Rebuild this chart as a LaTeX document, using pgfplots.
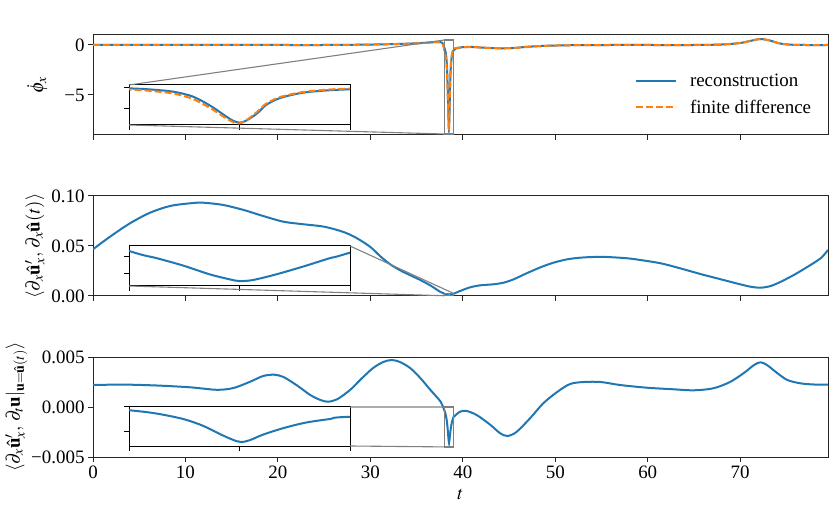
\documentclass[border=0pt]{standalone}
\usepackage{mathptmx}
\usepackage[no-math]{fontspec}
\setmainfont{Liberation Serif}
\usepackage{pgfplots}
\pgfplotsset{compat=1.18}
\usepackage{pgfplotstable}
\definecolor{mblue}{HTML}{1F77B4}
\definecolor{morange}{HTML}{FF7F0E}

\pgfplotstableread{
x y
0 0
5 0
10 0
15 0
20 0
25 0
28 0.02
31 0.06
34 0.13
36 0.22
37.3 0.3
37.8 0.2
38 -0.28
38.09 -0.52
38.2 -1.07
38.29 -2.24
38.37 -4.43
38.43 -6.55
38.47 -7.88
38.5 -8.35
38.53 -7.88
38.58 -6.16
38.62 -4.2
38.68 -2.63
38.77 -1.46
38.86 -0.91
39 -0.52
39.3 -0.33
40 -0.22
41 -0.2
42.5 -0.28
44 -0.33
45.5 -0.3
47 -0.18
49 -0.08
52 -0.02
56 0
60 0
65 0
68 0.05
70 0.2
71.3 0.45
72.2 0.6
73.2 0.45
74.3 0.15
75.5 0.03
77 0
79.5 0
}\tabArec

\pgfplotstableread{
x y
0 0
5 0
10 0
15 0
20 0
25 0
28 0.02
31 0.06
34 0.13
36 0.22
37.3 0.3
37.8 0.1
38 -0.55
38.09 -0.85
38.2 -1.5
38.29 -2.8
38.37 -5.0
38.43 -7.0
38.47 -8.2
38.5 -8.55
38.53 -7.8
38.58 -5.8
38.62 -3.9
38.68 -2.4
38.77 -1.3
38.86 -0.75
39 -0.35
39.3 -0.3
40 -0.22
41 -0.2
42.5 -0.28
44 -0.33
45.5 -0.3
47 -0.18
49 -0.08
52 -0.02
56 0
60 0
65 0
68 0.05
70 0.2
71.3 0.45
72.2 0.6
73.2 0.45
74.3 0.15
75.5 0.03
77 0
79.5 0
}\tabAfd

\pgfplotstableread{
x y
0 0.0467
1.84 0.0593
4.0 0.0727
6.17 0.0833
8.33 0.0900
10.5 0.0927
11.9 0.0933
14.1 0.0910
16.3 0.0860
18.4 0.0800
20.6 0.0743
22.8 0.0717
25.0 0.0693
27.1 0.0640
28.5 0.0580
30.0 0.0490
31.1 0.0395
32.1 0.0320
33.2 0.0258
34.3 0.0208
35.4 0.0160
36.5 0.0105
37.0 0.0075
37.5 0.0045
38 0.00231
38.124 0.00189
38.245 0.00145
38.366 0.00093
38.456 0.00064
38.5 0.00054
38.56 0.00060
38.665 0.00093
38.79 0.00140
38.91 0.00189
39 0.00221
39.7 0.0050
40.8 0.0087
41.9 0.0107
43.3 0.0117
44.4 0.0133
45.5 0.0167
46.9 0.0227
48.4 0.0287
49.8 0.0333
51.3 0.0367
52.7 0.0383
54.1 0.0390
55.6 0.0390
57.8 0.0377
59.2 0.0360
61.4 0.0327
63.5 0.0277
65.7 0.0220
67.9 0.0167
70.0 0.0117
71.1 0.0093
72.2 0.0083
73.3 0.0100
74.4 0.0143
75.8 0.0210
77.2 0.0287
78.7 0.0377
79.5 0.0460
}\tabB

\pgfplotstableread{
x y
0 0.0022
3.3 0.00224
6.9 0.00215
10.5 0.00197
13.4 0.00172
15.2 0.00190
17.0 0.00253
18.4 0.0031
19.6 0.00323
20.6 0.0030
22.0 0.0022
23.5 0.0012
24.6 0.0007
25.4 0.00053
26.4 0.00077
27.8 0.0017
29.0 0.0028
30.3 0.0039
31.4 0.0045
32.3 0.0047
33.2 0.0045
34.3 0.0039
35.4 0.0029
36.5 0.0017
37.6 0.00053
38 -0.00033
38.124 -0.00067
38.245 -0.00123
38.335 -0.00193
38.426 -0.00293
38.486 -0.0035
38.51 -0.0036
38.547 -0.0034
38.607 -0.00283
38.698 -0.00217
38.8 -0.0016
38.91 -0.00123
39 -0.0010
39.7 -0.00047
40.4 -0.0004
41.5 -0.0008
43.0 -0.0018
44.0 -0.0026
44.8 -0.0029
45.8 -0.0025
47.3 -0.0011
48.7 0.00037
50.2 0.0015
51.6 0.0023
53.1 0.0025
54.9 0.0025
57.0 0.0022
59.9 0.00193
62.8 0.00177
65.0 0.00167
67.1 0.00187
68.9 0.0025
70.4 0.0034
71.5 0.0042
72.2 0.00447
72.9 0.0042
74.0 0.0034
75.1 0.0027
76.5 0.00237
78.0 0.00225
79.5 0.00225
}\tabC

\tikzset{conn/.style={black!50, line width=1.1bp}}
\pgfplotsset{
  mainax/.style={scale only axis, width=735bp, height=100bp, xmin=0, xmax=79.5,
    axis line style={line width=1bp, black!85}, tick style={line width=1bp, black!85},
    tick align=outside, major tick length=5bp, tick pos=left,
    xtick={0,10,20,30,40,50,60,70}, scaled ticks=false,
    tick label style={font=\fontsize{19}{21}\selectfont},
    label style={font=\fontsize{19}{21}\selectfont},
    /pgf/number format/assume math mode=true},
  insax/.style={scale only axis, width=221bp, xmin=38, xmax=39,
    restrict x to domain=37.4:39.8,
    xtick={38,38.5,39}, xticklabels={}, yticklabels={}, scaled ticks=false,
    axis line style={line width=1bp, black}, tick style={line width=1bp, black},
    tick align=outside, major tick length=5bp, tick pos=left,
    axis background/.style={fill=white}},
  rec/.style={mblue, line width=2bp, smooth},
  fd/.style={morange, line width=2bp, smooth, dash pattern=on 7bp off 3bp},
}

\begin{document}
\begin{tikzpicture}
\path[use as bounding box] (0,0) rectangle (830bp,505bp);

% ---------- panel (a)
\begin{axis}[mainax, name=A, at={(93bp,370bp)}, anchor=south west,
  ymin=-9, ymax=1, ytick={-5,0}, yticklabels={−5,0}, xticklabels={},
  ylabel={$\dot{\phi}_x$}, ylabel shift=10bp,
  legend style={draw=none, fill=none, at={(0.984,0.16)}, anchor=south east,
    font=\fontsize{19}{21}\selectfont, row sep=8bp},
  legend cell align=left,
  legend image code/.code={\draw[#1] (0bp,0bp) -- (40bp,0bp);}]
\addplot[rec] table {\tabArec};
\addlegendentry{\hspace{11bp}reconstruction}
\addplot[fd] table {\tabAfd};
\addlegendentry{\hspace{11bp}finite difference}
\draw[conn] (axis cs:38,-8.9) rectangle (axis cs:39,0.5);
\coordinate (Atl) at (axis cs:38,0.5);
\coordinate (Abl) at (axis cs:38,-8.9);
\node[font=\fontsize{25}{27}\selectfont] at (rel axis cs:-0.019,1.22) {$(a)$};
\end{axis}

% ---------- panel (b)
\begin{axis}[mainax, name=B, at={(93bp,209bp)}, anchor=south west,
  ymin=0, ymax=0.1, ytick={0,0.05,0.1}, yticklabels={0.00,0.05,0.10}, xticklabels={},
  ylabel={$\langle \partial_x \hat{\mathbf{u}}'_x,\, \partial_x \hat{\mathbf{u}}(t)\rangle$}]
\addplot[rec] table {\tabB};
\draw[conn] (axis cs:38,0.00025) rectangle (axis cs:39,0.0026);
\coordinate (Btr) at (axis cs:39,0.0026);
\coordinate (Bbl) at (axis cs:38,0.00025);
\node[font=\fontsize{25}{27}\selectfont] at (rel axis cs:-0.019,1.23) {$(b)$};
\end{axis}

% ---------- panel (c)
\begin{axis}[mainax, name=C, at={(93bp,48bp)}, anchor=south west,
  ymin=-0.005, ymax=0.005, ytick={-0.005,0,0.005}, yticklabels={−0.005,0.000,0.005},
  xticklabels={0,10,20,30,40,50,60,70},
  xlabel={$t$}, xlabel shift=4bp, ylabel shift=-3bp,
  ylabel={$\langle \partial_x \hat{\mathbf{u}}'_x,\, \partial_t \mathbf{u}|_{\mathbf{u}=\hat{\mathbf{u}}(t)}\rangle$}]
\addplot[rec] table {\tabC};
\draw[conn] (axis cs:38,-0.004) rectangle (axis cs:39,0);
\coordinate (Ctr) at (axis cs:39,0);
\coordinate (Cbr) at (axis cs:39,-0.004);
\node[font=\fontsize{25}{27}\selectfont] at (rel axis cs:-0.019,1.24) {$(c)$};
\end{axis}

% ---------- insets
\begin{axis}[insax, name=IA, at={(129bp,380bp)}, anchor=south west, height=40bp,
  ymin=-8.9, ymax=0.5, ytick={-5,0}]
\addplot[rec] table {\tabArec};
\addplot[fd] table {\tabAfd};
\end{axis}
\draw[conn] (IA.north west) -- (Atl);
\draw[conn] (IA.south west) -- (Abl);

\begin{axis}[insax, name=IB, at={(129bp,219bp)}, anchor=south west, height=40bp,
  ymin=0.00025, ymax=0.0026, ytick={0.001,0.002}]
\addplot[rec] table {\tabB};
\end{axis}
\draw[conn] (IB.north east) -- (Btr);
\draw[conn] (IB.south west) -- (Bbl);

\begin{axis}[insax, name=IC, at={(129bp,59bp)}, anchor=south west, height=39bp,
  ymin=-0.004, ymax=0, ytick={-0.0025,0}]
\addplot[rec] table {\tabC};
\end{axis}
\draw[conn] (IC.north east) -- (Ctr);
\draw[conn] (IC.south east) -- (Cbr);
\end{tikzpicture}
\end{document}
